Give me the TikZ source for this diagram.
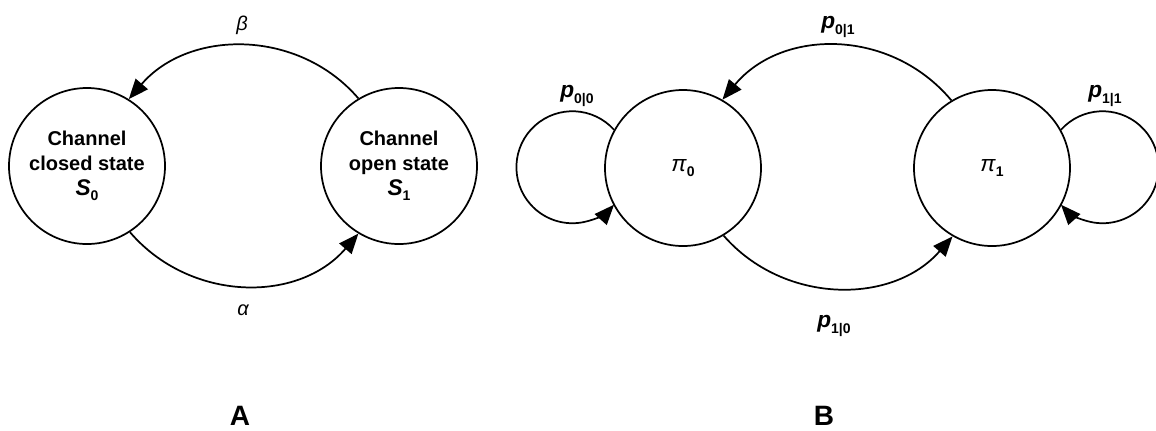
\documentclass[tikz,border=0pt]{standalone}
\usepackage{fontspec}
\setmainfont{Liberation Sans}
\usepackage{tikz}
\usetikzlibrary{arrows.meta}
% lowered bold index, as in S_0 or p_{0|1}
\newcommand{\ix}[1]{\raisebox{-4pt}{\fontsize{10.5}{12}\selectfont\upshape\bfseries #1}}
\tikzset{
  state/.style={draw, circle, line width=1.3pt, minimum size=117pt, inner sep=0pt, align=center, font=\fontsize{15}{18.75}\selectfont\bfseries},
  arr/.style={-{Triangle[length=15pt,width=12pt]}, line width=1.3pt},
  rate/.style={font=\fontsize{15}{18}\selectfont\itshape},
  prob/.style={font=\fontsize{17}{20}\selectfont\bfseries\itshape},
  panel/.style={font=\fontsize{21}{24}\selectfont\bfseries}}

\begin{document}
\begin{tikzpicture}[x=0.75pt, y=0.75pt]
  \useasboundingbox (0,0) rectangle (1156,-430);

  % A: two-state channel
  \node[state] (s0) at (87,-166) {Channel\\closed state\\{\fontsize{17}{18.75}\selectfont\itshape S}\ix{0}};
  \node[state] (s1) at (399,-166) {Channel\\open state\\{\fontsize{17}{18.75}\selectfont\itshape S}\ix{1}};
  \draw[arr] (s1.121) .. controls +(-60,70) and +(60,70) .. (s0.58);
  \draw[arr] (s0.-57) .. controls +(60,-70) and +(-60,-70) .. (s1.-121);
  \node[rate] (beta) at (242,-25) {β};
  \node[rate] (alpha) at (243,-310) {α};
  \node[panel] (pa) at (240,-416) {A};

  % B: Markov chain with self transitions
  \node[state, font=\fontsize{17}{20}\selectfont] (pz) at (683,-168) {\textit{π}\ix{0}};
  \node[state, font=\fontsize{17}{20}\selectfont] (po) at (992,-168) {\textit{π}\ix{1}};
  \draw[arr] (po.121) .. controls +(-60,72) and +(60,72) .. (pz.60);
  \draw[arr] (pz.-59) .. controls +(60,-69) and +(-60,-69) .. (po.-120);
  \draw[arr] (pz.151) arc[start angle=42, end angle=318, radius=56];
  \draw[arr] (po.29) arc[start angle=138, end angle=-138, radius=56];
  \node[prob] (p00) at (577,-96) {p\ix{0|0}};
  \node[prob] (p01) at (838,-27) {p\ix{0|1}};
  \node[prob] (p10) at (834,-326) {p\ix{1|0}};
  \node[prob] (p11) at (1105,-96) {p\ix{1|1}};
  \node[panel] (pb) at (824,-416) {B};
\end{tikzpicture}
\end{document}
